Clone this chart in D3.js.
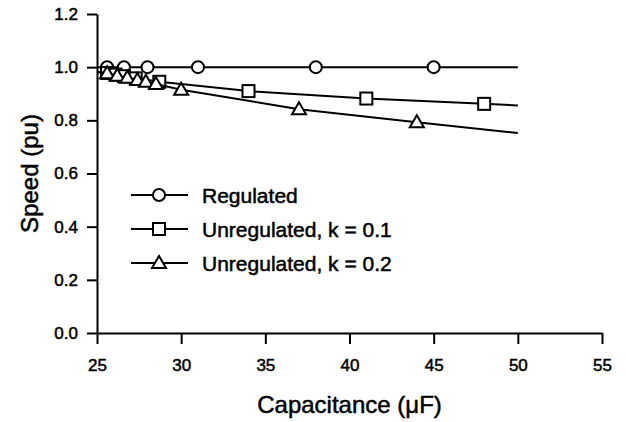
<!DOCTYPE html>
<html>
<head>
<meta charset="utf-8">
<script src="https://cdn.jsdelivr.net/npm/d3@7"></script>
<style>
  body { margin: 0; background: #fff; }
  text { font-family: "Liberation Sans", Arial, sans-serif; fill: #000; stroke: #000; stroke-width: 0.5px; }
</style>
</head>
<body>
<div id="chart"></div>
<script>
// values
const xTicks = [25, 30, 35, 40, 45, 50, 55];
const yTicks = [0, 0.2, 0.4, 0.6, 0.8, 1.0, 1.2];

const regC = [25.6, 26.6, 28, 31, 38, 45];
const regS = [1.0, 1.0, 1.0, 1.0, 1.0, 1.0];

const k1C = [25.6, 26.1, 26.6, 27.3, 28.7, 34, 41, 48];
const k1S = [0.978, 0.972, 0.966, 0.958, 0.945, 0.910, 0.882, 0.862];

const k2C = [25.6, 26.2, 26.8, 27.4, 27.9, 28.5, 30, 37, 44];
const k2S = [0.977, 0.968, 0.960, 0.952, 0.945, 0.937, 0.915, 0.842, 0.793];

// line ends (no marker there)
const endC = [25, 50];
const regEnd = [1.0, 1.0];
const k1End = [0.982, 0.856];
const k2End = [0.982, 0.752];

const labels = ["Regulated", "Unregulated, k = 0.1", "Unregulated, k = 0.2"];
const symbols = ["circle", "square", "triangle"];

const W = 626, H = 422;
const margin = {top: 14, right: 24, bottom: 89, left: 97};

const x = d3.scaleLinear().domain([25, 55]).range([margin.left, W - margin.right]);
const y = d3.scaleLinear().domain([0, 1.2]).range([H - margin.bottom, margin.top]);

const svg = d3.select("#chart").append("svg")
    .attr("width", W)
    .attr("height", H);

const xAxis = svg.append("g")
    .attr("transform", `translate(0,${y(0)})`)
    .call(d3.axisBottom(x).tickValues(xTicks).tickSize(11).tickPadding(15).tickSizeOuter(0));
xAxis.selectAll("text").style("font-size", "17px").attr("dy", "0.71em");

const yAxis = svg.append("g")
    .attr("transform", `translate(${x(25)},0)`)
    .call(d3.axisLeft(y).tickValues(yTicks).tickFormat(d3.format(".1f")).tickSize(10).tickPadding(9).tickSizeOuter(0));
yAxis.selectAll("text").style("font-size", "17px");

svg.selectAll(".domain, .tick line").attr("stroke", "#000").attr("stroke-width", 2);

svg.append("text")
    .attr("x", x(40))
    .attr("y", 413)
    .attr("text-anchor", "middle")
    .style("font-size", "24px")
    .text("Capacitance (\u03bcF)");

svg.append("text")
    .attr("transform", `translate(38,${y(0.6)}) rotate(-90)`)
    .attr("text-anchor", "middle")
    .style("font-size", "24px")
    .text("Speed (pu)");

const series = [
  {c: regC, s: regS, end: regEnd},
  {c: k1C, s: k1S, end: k1End},
  {c: k2C, s: k2S, end: k2End}
];

const line = d3.line().x(d => x(d[0])).y(d => y(d[1]));

function marker(g, type, cx, cy) {
  if (type === "circle") {
    g.append("circle").attr("cx", cx).attr("cy", cy).attr("r", 6);
  } else if (type === "square") {
    g.append("rect").attr("x", cx - 6).attr("y", cy - 6).attr("width", 12).attr("height", 12);
  } else {
    g.append("path").attr("d", `M${cx},${cy - 7}L${cx + 7},${cy + 5}L${cx - 7},${cy + 5}Z`);
  }
}

series.forEach((sr, i) => {
  const pts = sr.c.map((c, j) => [c, sr.s[j]]);
  const all = [[endC[0], sr.end[0]], ...pts, [endC[1], sr.end[1]]];
  svg.append("path")
      .attr("d", line(all))
      .attr("fill", "none")
      .attr("stroke", "#000")
      .attr("stroke-width", 2);
  const g = svg.append("g").attr("fill", "#fff").attr("stroke", "#000").attr("stroke-width", 2);
  pts.forEach(p => marker(g, symbols[i], x(p[0]), y(p[1])));
});

// legend
const legend = svg.append("g");
labels.forEach((lab, i) => {
  const ly = 195 + i * 34;
  legend.append("line")
      .attr("x1", 131).attr("x2", 188)
      .attr("y1", ly).attr("y2", ly)
      .attr("stroke", "#000").attr("stroke-width", 2);
  const g = legend.append("g").attr("fill", "#fff").attr("stroke", "#000").attr("stroke-width", 2);
  marker(g, symbols[i], 159, ly);
  legend.append("text")
      .attr("x", 202)
      .attr("y", ly + 7.5)
      .style("font-size", "21px")
      .text(lab);
});
</script>
</body>
</html>
